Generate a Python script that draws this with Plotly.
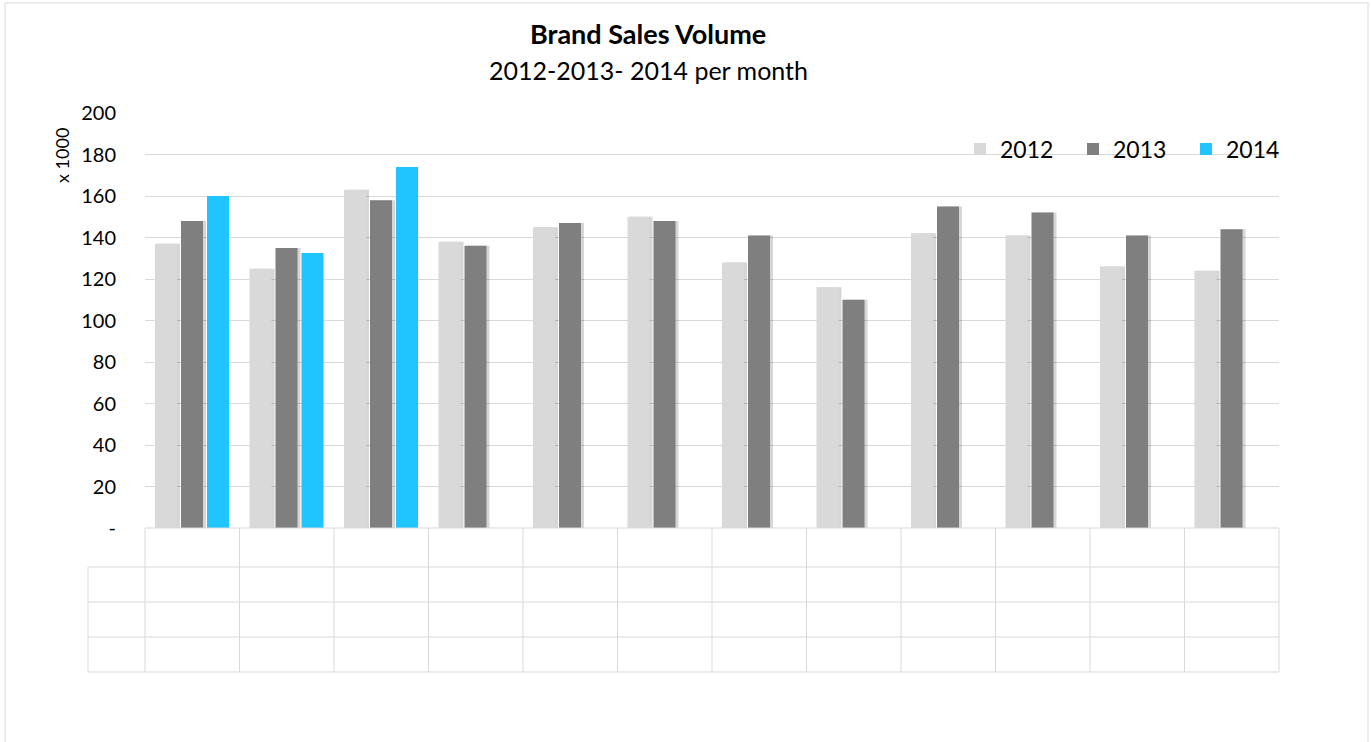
import plotly.graph_objects as go

# ---- data ----
months = ["Jan", "Feb", "Mar", "Apr", "May", "Jun", "Jul", "Aug", "Sep", "Oct", "Nov", "Dec"]
sales_2012 = [137, 125, 163, 138, 145, 150, 128, 116, 142, 141, 126, 124]
sales_2013 = [148, 135, 158, 136, 147, 148, 141, 110, 155, 152, 141, 144]
sales_2014 = [160, 132.5, 174, None, None, None, None, None, None, None, None, None]
y_tickvals = [0, 20, 40, 60, 80, 100, 120, 140, 160, 180, 200]
y_ticktext = ["-", "20", "40", "60", "80", "100", "120", "140", "160", "180", "200"]

FONT = "Lato, 'Open Sans', sans-serif"
GRID = "#d9d9d9"

# plot area in pixels: x 145..1279, y 113..528
W, H = 1371, 742
L, R, T, B = 145, 1279, 113, 528
pw, ph = R - L, B - T
cat_px = pw / len(months)

def px_x(x):
    return (x - L) / pw

def px_y(y):
    return (B - y) / ph

bar_w = 22 / cat_px
pitch = 26 / cat_px
first_off = -0.5 + 10 / cat_px
shadow_dx = 3 / cat_px

fig = go.Figure()
series = [("2012", sales_2012, "#d9d9d9", True),
          ("2013", sales_2013, "#7f7f7f", True),
          ("2014", sales_2014, "#20c5ff", False)]
for k, (name, vals, col, shadow) in enumerate(series):
    off = first_off + k * pitch
    if shadow:
        fig.add_trace(go.Bar(x=months, y=vals, width=bar_w, offset=off + shadow_dx,
                             marker=dict(color="rgba(0,0,0,0.16)", line=dict(width=0)),
                             showlegend=False, hoverinfo="skip"))
    fig.add_trace(go.Bar(x=months, y=vals, name=name, width=bar_w, offset=off,
                         marker=dict(color=col, line=dict(width=0))))

shapes = []
line = dict(color=GRID, width=1)
# data table grid below the plot
row_ys = [528, 567, 602, 637, 672]
for i in range(len(months) + 1):
    shapes.append(dict(type="line", xref="x domain", yref="paper",
                       x0=i / len(months), x1=i / len(months),
                       y0=px_y(528), y1=px_y(672), line=line))
left = px_x(88)
shapes.append(dict(type="line", xref="x domain", yref="paper",
                   x0=left, x1=left, y0=px_y(567), y1=px_y(672), line=line))
for j, ry in enumerate(row_ys):
    shapes.append(dict(type="line", xref="x domain", yref="paper",
                       x0=(0 if j == 0 else left), x1=1,
                       y0=px_y(ry), y1=px_y(ry), line=line))
# outer chart border
shapes.append(dict(type="rect", xref="paper", yref="paper",
                   x0=px_x(5), x1=px_x(1368), y0=px_y(745), y1=px_y(3),
                   line=dict(color="#e6e6e6", width=1.5), layer="below"))

fig.update_layout(
    width=W, height=H,
    margin=dict(l=L, r=W - R, t=T, b=H - B, pad=0),
    paper_bgcolor="white", plot_bgcolor="white",
    barmode="overlay",
    font=dict(family=FONT, color="#000000"),
    showlegend=True,
    legend=dict(orientation="h", x=px_x(960), xanchor="left", y=px_y(149), yanchor="middle",
                font=dict(size=23, family=FONT), entrywidth=68, entrywidthmode="pixels",
                traceorder="normal", bgcolor="rgba(0,0,0,0)"),
    xaxis=dict(range=[-0.5, len(months) - 0.5], showticklabels=False, showgrid=False,
               zeroline=False, showline=False, ticks=""),
    yaxis=dict(range=[0, 200], tickvals=y_tickvals, ticktext=y_ticktext,
               tickfont=dict(size=20, family=FONT), showgrid=True, gridcolor=GRID, gridwidth=1,
               zeroline=False, showline=False, ticks="", ticklabelstandoff=28),
    shapes=shapes,
    annotations=[
        dict(text="<b>Brand Sales Volume</b>", xref="paper", yref="paper", x=px_x(648), y=px_y(33),
             xanchor="center", yanchor="middle", showarrow=False, font=dict(size=27, family=FONT)),
        dict(text="2012-2013- 2014 per month", xref="paper", yref="paper", x=px_x(648), y=px_y(70),
             xanchor="center", yanchor="middle", showarrow=False, font=dict(size=25, family=FONT)),
        dict(text="x 1000", xref="paper", yref="paper", x=px_x(62), y=px_y(156),
             xanchor="center", yanchor="middle", textangle=-90, showarrow=False,
             font=dict(size=18, family=FONT)),
    ],
)

fig.write_html("out.html")
